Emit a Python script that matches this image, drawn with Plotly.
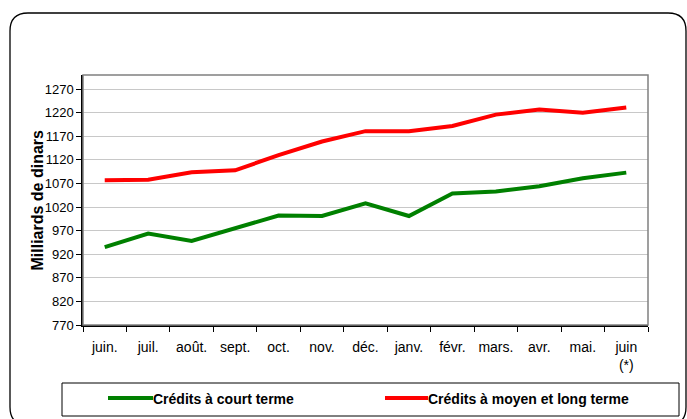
import plotly.graph_objects as go

months = ["juin.", "juil.", "août.", "sept.", "oct.", "nov.", "déc.", "janv.",
          "févr.", "mars.", "avr.", "mai.", "juin<br>(*)"]
court_terme = [935, 964, 948, 976, 1002, 1001, 1028, 1001, 1049, 1053, 1064, 1081, 1093]
moyen_long_terme = [1077, 1078, 1094, 1098, 1130, 1159, 1181, 1181, 1192, 1216, 1227, 1220, 1231]
series_names = ["Crédits à court terme", "Crédits à moyen et long terme"]
series_colors = ["#008000", "#FF0000"]
y_ticks = list(range(770, 1271, 50))

W, H = 687, 419
L, R, T, B = 83, 39, 75, 94
PW, PH = W - L - R, H - T - B


def px(x):
    return (x - L) / PW


def py(y):
    return (H - B - y) / PH


fig = go.Figure()
for name, vals, col in zip(series_names, [court_terme, moyen_long_terme], series_colors):
    fig.add_trace(go.Scatter(x=months, y=vals, mode="lines", name=name,
                             line=dict(color=col, width=4), showlegend=False))

font = "Liberation Sans, Arial, sans-serif"
shapes = []
annotations = []

# outer rounded frame
x0, x1, y0, y1, r = 10, 686, 13, 425, 18
path = (f"M {px(x0 + r)},{py(y0)} L {px(x1 - r)},{py(y0)} "
        f"Q {px(x1)},{py(y0)} {px(x1)},{py(y0 + r)} "
        f"L {px(x1)},{py(y1 - r)} Q {px(x1)},{py(y1)} {px(x1 - r)},{py(y1)} "
        f"L {px(x0 + r)},{py(y1)} Q {px(x0)},{py(y1)} {px(x0)},{py(y1 - r)} "
        f"L {px(x0)},{py(y0 + r)} Q {px(x0)},{py(y0)} {px(x0 + r)},{py(y0)} Z")
shapes.append(dict(type="path", path=path, xref="paper", yref="paper",
                   line=dict(color="black", width=1.3), layer="below"))

# plot frame (gray)
shapes.append(dict(type="rect", xref="paper", yref="paper", x0=0, x1=1, y0=0, y1=1,
                   line=dict(color="#808080", width=1.5), layer="above"))

# legend box
shapes.append(dict(type="rect", xref="paper", yref="paper",
                   x0=px(62), x1=px(679), y0=py(416), y1=py(383),
                   line=dict(color="black", width=1), layer="above"))
legend_pos = [(108, 153), (385, 428)]
for (lx0, lx1), name, col in zip(legend_pos, series_names, series_colors):
    shapes.append(dict(type="line", xref="paper", yref="paper",
                       x0=px(lx0), x1=px(lx1), y0=py(398), y1=py(398),
                       line=dict(color=col, width=4)))
    annotations.append(dict(x=px(lx1), y=py(399), xref="paper", yref="paper",
                            text=f"<b>{name}</b>", showarrow=False, xanchor="left",
                            yanchor="middle", xshift=-2,
                            font=dict(family=font, size=14, color="black")))

annotations.append(dict(x=px(26), y=0.5, xref="paper", yref="paper",
                        text="<b>Milliards de dinars</b>", textangle=-90, showarrow=False,
                        font=dict(family=font, size=16, color="black")))

fig.update_layout(
    width=W, height=H, margin=dict(l=L, r=R, t=T, b=B),
    paper_bgcolor="white", plot_bgcolor="white",
    font=dict(family=font, size=13, color="black"),
    shapes=shapes, annotations=annotations,
    xaxis=dict(type="category", range=[-0.5, 12.5], tickson="boundaries",
               ticks="outside", ticklen=5, ticklabelstandoff=8, tickangle=0,
               tickcolor="black", showline=True, linecolor="black", linewidth=1.5,
               showgrid=False, tickfont=dict(size=14), fixedrange=True),
    yaxis=dict(range=[770, 1300], tickvals=y_ticks, ticks="outside", ticklen=5,
               tickcolor="black", showline=True, linecolor="black", linewidth=1.5,
               showgrid=True, gridcolor="#C8C8C8", gridwidth=1, zeroline=False,
               tickfont=dict(size=13), fixedrange=True),
)

fig.write_html("out.html", config={"displayModeBar": False},
               post_script="document.body.style.margin='0';document.body.style.overflow='hidden';")
